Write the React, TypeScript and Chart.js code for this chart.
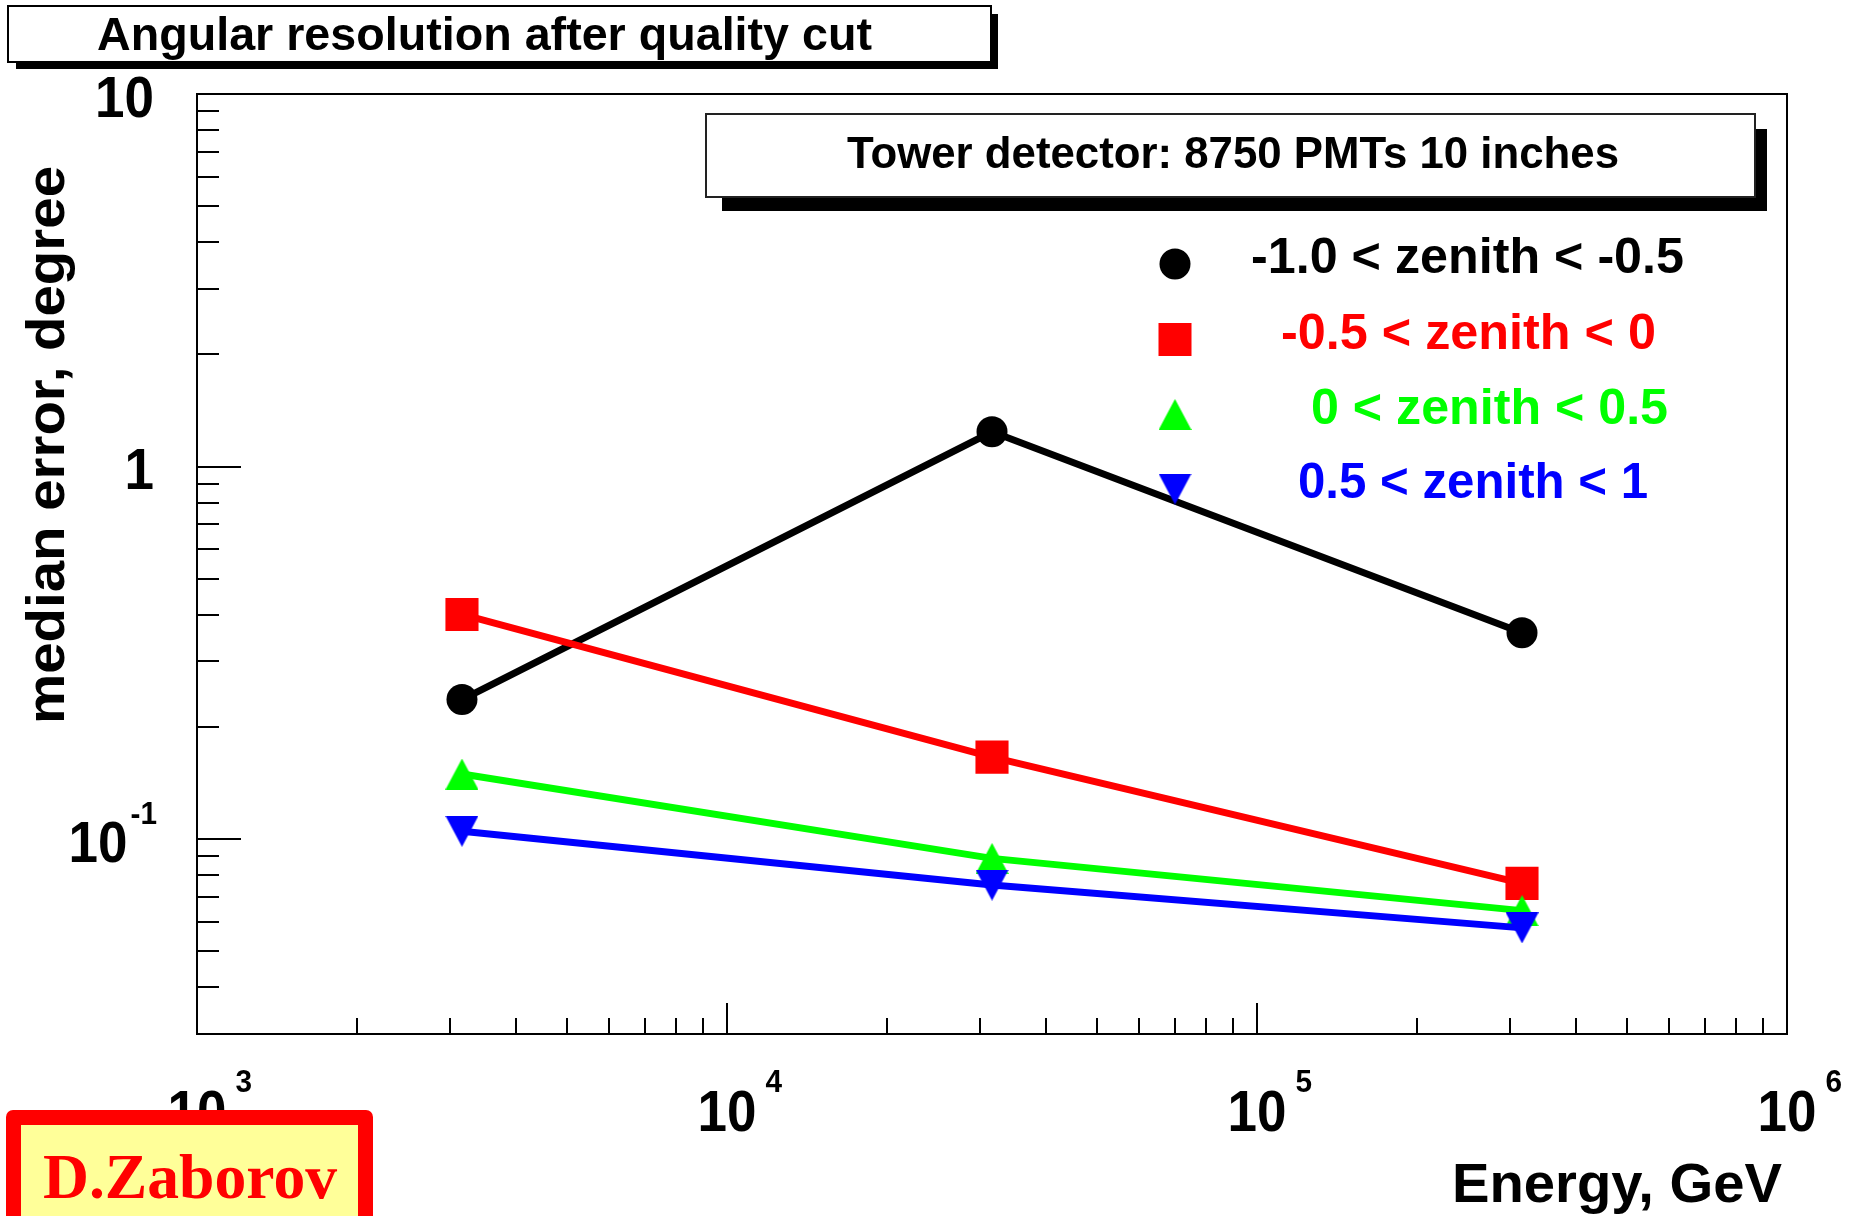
import React, { useEffect, useRef } from 'react';
import { Chart, registerables } from 'chart.js';

Chart.register(...registerables);

// ---------------- data ----------------
const energies = [3162, 31623, 316228];
const seriesLabels = ['-1.0 < zenith < -0.5', '-0.5 < zenith < 0', '0 < zenith < 0.5', '0.5 < zenith < 1'];
const zenithM10toM05 = [0.237, 1.24, 0.358];
const zenithM05to0 = [0.401, 0.166, 0.0761];
const zenith0to05 = [0.1496, 0.0888, 0.0643];
const zenith05to1 = [0.105, 0.0753, 0.0578];
const seriesColors = ['#000000', '#ff0000', '#00ff00', '#0000ff'];
const xMajorTicks = [1e3, 1e4, 1e5, 1e6];
const xTickBase = ['10', '10', '10', '10'];
const xTickExp = ['3', '4', '5', '6'];
const yMajorTicks = [0.1, 1, 10];
const yTickBase = ['10', '1', '10'];
const yTickExp = ['-1', '', ''];
const chartTitle = 'Angular resolution after quality cut';
const legendTitle = 'Tower detector: 8750 PMTs 10 inches';
const xTitle = 'Energy, GeV';
const yTitle = 'median error, degree';
const authorTag = 'D.Zaborov';

const X_MIN = 1e3, X_MAX = 1e6, Y_MIN = 0.03, Y_MAX = 10;
const W = 1861, H = 1216;
const SANS = '"Liberation Sans", Arial, sans-serif';
const SERIF = '"Liberation Serif", "Times New Roman", serif';

function fitText(ctx: CanvasRenderingContext2D, text: string, x: number, y: number, font: string,
  width: number, color: string, align: 'left' | 'center' | 'right' = 'left') {
  ctx.save();
  ctx.font = font;
  ctx.fillStyle = color;
  ctx.textBaseline = 'alphabetic';
  ctx.textAlign = 'left';
  const w = ctx.measureText(text).width;
  const sx = width > 0 ? width / w : 1;
  const dw = w * sx;
  let x0 = x;
  if (align === 'center') x0 = x - dw / 2;
  else if (align === 'right') x0 = x - dw;
  ctx.translate(x0, y);
  ctx.scale(sx, 1);
  ctx.fillText(text, 0, 0);
  ctx.restore();
}

function scaledWidth(ctx: CanvasRenderingContext2D, text: string, font: string, sx: number) {
  ctx.save();
  ctx.font = font;
  const w = ctx.measureText(text).width * sx;
  ctx.restore();
  return w;
}

function makeTriangle(color: string, up: boolean): HTMLCanvasElement {
  const c = document.createElement('canvas');
  c.width = 33; c.height = 31;
  const g = c.getContext('2d')!;
  g.fillStyle = color;
  g.beginPath();
  if (up) { g.moveTo(16.5, 0); g.lineTo(33, 31); g.lineTo(0, 31); }
  else { g.moveTo(0, 0); g.lineTo(33, 0); g.lineTo(16.5, 31); }
  g.closePath();
  g.fill();
  return c;
}

function minorTicks(min: number, max: number): number[] {
  const out: number[] = [];
  for (let e = Math.floor(Math.log10(min)); e <= Math.ceil(Math.log10(max)); e++) {
    const d = Math.pow(10, e);
    for (let m = 2; m <= 9; m++) {
      const v = d * m;
      if (v >= min * 0.999 && v <= max * 1.001) out.push(v);
    }
  }
  return out;
}

function drawMarker(ctx: CanvasRenderingContext2D, kind: number, x: number, y: number, color: string, tri?: HTMLCanvasElement) {
  ctx.save();
  ctx.fillStyle = color;
  if (kind === 0) {
    ctx.beginPath(); ctx.arc(x, y, 15.5, 0, Math.PI * 2); ctx.fill();
  } else if (kind === 1) {
    ctx.fillRect(x - 16.5, y - 16.5, 33, 33);
  } else if (tri) {
    ctx.drawImage(tri, x - tri.width / 2, y - tri.height / 2);
  }
  ctx.restore();
}

export default function App() {
  const ref = useRef<HTMLCanvasElement | null>(null);

  useEffect(() => {
    const canvas = ref.current;
    if (!canvas) return;
    const triUp = makeTriangle(seriesColors[2], true);
    const triDown = makeTriangle(seriesColors[3], false);
    const seriesValues = [zenithM10toM05, zenithM05to0, zenith0to05, zenith05to1];
    const styles: any[] = ['circle', 'rect', triUp, triDown];
    const radii = [15.5, 23.4, 16, 16];

    const framePlugin = {
      id: 'rootFrame',
      beforeDraw(chart: any) {
        const ctx = chart.ctx as CanvasRenderingContext2D;
        ctx.save();
        ctx.fillStyle = '#ffffff';
        ctx.fillRect(0, 0, W, H);
        ctx.restore();
      },
      beforeDatasetsDraw(chart: any) {
        const ctx = chart.ctx as CanvasRenderingContext2D;
        const { left, right, top, bottom } = chart.chartArea;
        const xs = chart.scales.x, ys = chart.scales.y;
        ctx.save();
        ctx.strokeStyle = '#000000';
        ctx.lineWidth = 2;
        ctx.strokeRect(left, top, right - left, bottom - top);
        ctx.beginPath();
        for (const v of yMajorTicks) {
          const py = Math.round(ys.getPixelForValue(v));
          ctx.moveTo(left, py); ctx.lineTo(left + 44, py);
        }
        for (const v of minorTicks(Y_MIN, Y_MAX)) {
          const py = Math.round(ys.getPixelForValue(v));
          ctx.moveTo(left, py); ctx.lineTo(left + 22, py);
        }
        for (const v of xMajorTicks) {
          const px = Math.round(xs.getPixelForValue(v));
          ctx.moveTo(px, bottom); ctx.lineTo(px, bottom - 31);
        }
        for (const v of minorTicks(X_MIN, X_MAX)) {
          const px = Math.round(xs.getPixelForValue(v));
          ctx.moveTo(px, bottom); ctx.lineTo(px, bottom - 16);
        }
        ctx.stroke();
        ctx.restore();

        // tick labels
        const baseFont = `bold 57px ${SANS}`;
        const supFont = `bold 32px ${SANS}`;
        const sx = 0.93;
        yMajorTicks.forEach((v, i) => {
          const py = ys.getPixelForValue(v);
          const base = yTickBase[i], sup = yTickExp[i];
          const bw = scaledWidth(ctx, base, baseFont, sx);
          const baseline = py + 22.5;
          if (sup) {
            const sw = scaledWidth(ctx, sup, supFont, sx);
            const right = 157;
            fitText(ctx, sup, right - sw, baseline - 29 - 20.5 + 11.5, supFont, sw, '#000');
            fitText(ctx, base, right - sw - 3 - bw, baseline, baseFont, bw, '#000');
          } else {
            fitText(ctx, base, 154 - bw, baseline, baseFont, bw, '#000');
          }
        });
        xMajorTicks.forEach((v, i) => {
          const px = xs.getPixelForValue(v);
          const base = xTickBase[i], sup = xTickExp[i];
          const bw = scaledWidth(ctx, base, baseFont, sx);
          const sw = scaledWidth(ctx, sup, supFont, sx);
          fitText(ctx, base, px - bw / 2, 1131, baseFont, bw, '#000');
          fitText(ctx, sup, px + bw / 2 + 9, 1092, supFont, sw, '#000');
        });

        // axis titles
        fitText(ctx, xTitle, 1782, 1202, `bold 56px ${SANS}`, 330, '#000', 'right');
        ctx.save();
        ctx.translate(64, 445);
        ctx.rotate(-Math.PI / 2);
        fitText(ctx, yTitle, 0, 0, `bold 54px ${SANS}`, 558, '#000', 'center');
        ctx.restore();
      },
      afterDraw(chart: any) {
        const ctx = chart.ctx as CanvasRenderingContext2D;
        ctx.save();
        // Title box with shadow
        ctx.fillStyle = '#000';
        ctx.fillRect(16, 14, 982, 55);
        ctx.fillStyle = '#fff';
        ctx.fillRect(8, 6, 983, 56);
        ctx.strokeStyle = '#000';
        ctx.lineWidth = 2;
        ctx.strokeRect(8, 6, 983, 56);
        fitText(ctx, chartTitle, 97, 50, `bold 46px ${SANS}`, 775, '#000');

        // Legend header box with shadow
        ctx.fillStyle = '#000';
        ctx.fillRect(722, 129, 1045, 82);
        ctx.fillStyle = '#fff';
        ctx.fillRect(706, 114, 1049, 83);
        ctx.strokeStyle = '#222';
        ctx.lineWidth = 2;
        ctx.strokeRect(706, 114, 1049, 83);
        fitText(ctx, legendTitle, 847, 168, `bold 45px ${SANS}`, 772, '#000');

        // Legend entries
        const rowY = [264, 339.5, 414.5, 489];
        const textLeft = [1251, 1281, 1311, 1298];
        const textWidth = [433, 375, 357, 350];
        const tris = [undefined, undefined, triUp, triDown];
        seriesLabels.forEach((lab, i) => {
          drawMarker(ctx, i, 1175, rowY[i], seriesColors[i], tris[i]);
          fitText(ctx, lab, textLeft[i], rowY[i] + 9, `bold 50px ${SANS}`, textWidth[i], seriesColors[i]);
        });

        // Author tag
        ctx.fillStyle = '#ff0000';
        ctx.beginPath();
        (ctx as any).roundRect(6, 1110, 367, 130, 7);
        ctx.fill();
        ctx.fillStyle = '#ffff99';
        ctx.fillRect(21, 1125, 337, 120);
        fitText(ctx, authorTag, 43, 1198, `bold 64px ${SERIF}`, 294, '#ff0000');
        ctx.restore();
      },
    };

    const datasets = seriesValues.map((vals, i) => ({
      label: seriesLabels[i],
      data: energies.map((e, j) => ({ x: e, y: vals[j] })),
      borderColor: seriesColors[i],
      backgroundColor: seriesColors[i],
      borderWidth: 7,
      pointStyle: styles[i],
      pointRadius: radii[i],
      pointBorderWidth: 0,
      pointBackgroundColor: seriesColors[i],
      showLine: true,
      tension: 0,
      order: 4 - i,
    }));

    const chart = new Chart(canvas, {
      type: 'scatter',
      data: { datasets },
      options: {
        responsive: false,
        devicePixelRatio: 1,
        animation: false,
        layout: { padding: { left: 197, right: W - 1787, top: 94, bottom: H - 1034 } },
        scales: {
          x: { type: 'logarithmic', min: X_MIN, max: X_MAX, display: false },
          y: { type: 'logarithmic', min: Y_MIN, max: Y_MAX, display: false },
        },
        plugins: {
          legend: { display: false },
          tooltip: { enabled: false },
          title: { display: false },
        },
      },
      plugins: [framePlugin],
    } as any);

    return () => chart.destroy();
  }, []);

  return (
    <canvas
      ref={ref}
      width={W}
      height={H}
      style={{ position: 'fixed', left: 0, top: 0, width: `${W}px`, height: `${H}px`, display: 'block' }}
    />
  );
}
